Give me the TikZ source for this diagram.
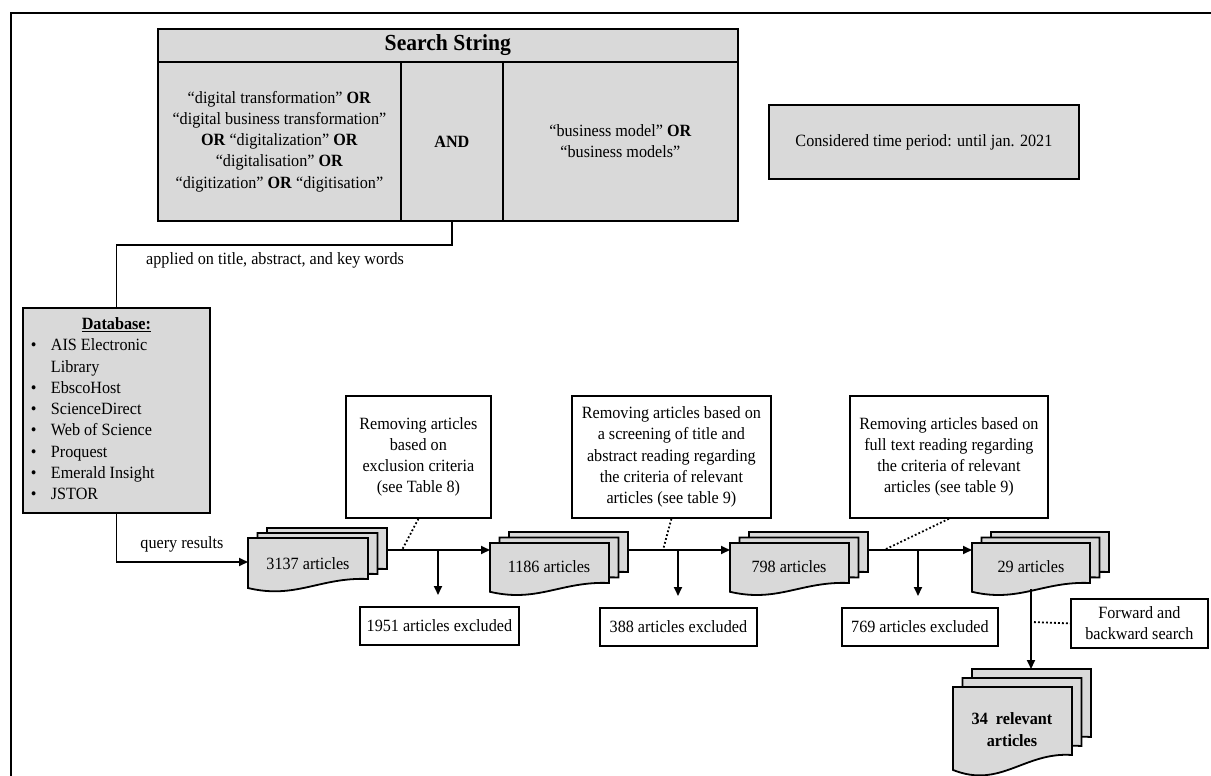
\documentclass[tikz,border=0pt]{standalone}
\usepackage{fontspec}
\setmainfont{Liberation Serif}[FakeStretch=0.94]
\usetikzlibrary{arrows.meta}
\definecolor{panelgray}{RGB}{217,217,217}
\newcommand\bodyfont{\fontsize{17.2}{21.3}\selectfont}

% one paper sheet with a wavy lower edge: x, y, width, height
\newcommand\docsheet[4]{%
  \pgfmathsetmacro\shR{#1+#3}%
  \pgfmathsetmacro\shB{#2+#4}%
  \pgfmathsetmacro\shCa{#1+0.6*#3}\pgfmathsetmacro\shCay{#2+0.95*#4}%
  \pgfmathsetmacro\shCb{#1+0.4*#3}\pgfmathsetmacro\shCby{#2+1.5*#4}%
  \pgfmathsetmacro\shL{#2+1.22*#4}%
  \draw[sheet] (#1,#2) -- (\shR,#2) -- (\shR,\shB)
    .. controls (\shCa,\shCay) and (\shCb,\shCby) .. (#1,\shL) -- cycle;}
% a pile of three sheets: x, y, width, height, x step, y step
\newcommand\docstack[6]{%
  \pgfmathsetmacro\stXc{#1+2*#5}\pgfmathsetmacro\stYc{#2-2*#6}%
  \pgfmathsetmacro\stXb{#1+#5}\pgfmathsetmacro\stYb{#2-#6}%
  \docsheet{\stXc}{\stYc}{#3}{#4}%
  \docsheet{\stXb}{\stYb}{#3}{#4}%
  \docsheet{#1}{#2}{#3}{#4}}

\tikzset{
  box/.style={draw, line width=1.8pt, inner sep=0pt, align=center,
    font=\bodyfont, anchor=north west},
  graybox/.style={box, fill=panelgray},
  sheet/.style={draw, fill=panelgray, line width=1.8pt},
  conn/.style={line width=1.8pt},
  arr/.style={conn, -{Triangle[length=9pt,width=8pt]}},
  dots/.style={line width=1.8pt, dash pattern=on 1.8pt off 2.2pt},
  txt/.style={font=\bodyfont, inner sep=0pt},
}

\begin{document}
\begin{tikzpicture}[x=1pt,y=-1pt]
\useasboundingbox (0,0) rectangle (1211,776);

% outer frame (top and left edges)
\draw[conn] (1211,13) -- (11,13) -- (11,776);

% search string table
\node[graybox, minimum width=580pt, minimum height=33pt,
  font=\bfseries\fontsize{23}{25}\selectfont] (hdr) at (157,28) {Search String};
\node[graybox, minimum width=243pt, minimum height=159pt] (termsA) at (157,61)
  {“digital transformation” \textbf{OR}\\
   “digital business transformation”\\
   \textbf{OR} “digitalization” \textbf{OR}\\
   “digitalisation” \textbf{OR}\\
   “digitization” \textbf{OR} “digitisation”};
\node[graybox, minimum width=102pt, minimum height=159pt,
  font=\bodyfont\bfseries] (andop) at (400,61) {AND};
\node[graybox, minimum width=235pt, minimum height=159pt] (termsB) at (502,61)
  {“business model” \textbf{OR}\\ “business models”};

\node[graybox, minimum width=310pt, minimum height=74pt] (period) at (768,104)
  {Considered time period: until jan. 2021};

% database list
\node[graybox, minimum width=187pt, minimum height=205pt, inner sep=4pt] (db) at (22,307)
  {\begin{tabular}{@{}p{24pt}@{}p{155pt}@{}}
    \multicolumn{2}{@{}c@{}}{\textbf{\underline{Database:}}}\\
    \hspace*{4pt}\textbullet & AIS Electronic\\
     & Library\\
    \hspace*{4pt}\textbullet & EbscoHost\\
    \hspace*{4pt}\textbullet & ScienceDirect\\
    \hspace*{4pt}\textbullet & Web of Science\\
    \hspace*{4pt}\textbullet & Proquest\\
    \hspace*{4pt}\textbullet & Emerald Insight\\
    \hspace*{4pt}\textbullet & JSTOR
  \end{tabular}};

% screening steps
\node[box, minimum width=145pt, minimum height=122pt] (rmA) at (345,395)
  {Removing articles\\based on\\exclusion criteria\\(see Table 8)};
\node[box, minimum width=199pt, minimum height=122pt] (rmB) at (571,395)
  {Removing articles based on\\a screening of title and\\abstract reading regarding\\the criteria of relevant\\articles (see table 9)};
\node[box, minimum width=198pt, minimum height=122pt] (rmC) at (849,395)
  {Removing articles based on\\full text reading regarding\\the criteria of relevant\\articles (see table 9)};

\node[box, minimum width=159pt, minimum height=38pt] (exA) at (359,606) {1951 articles excluded};
\node[box, minimum width=157pt, minimum height=38pt] (exB) at (599,607) {388 articles excluded};
\node[box, minimum width=156pt, minimum height=38pt] (exC) at (841,607) {769 articles excluded};
\node[box, minimum width=137pt, minimum height=49pt] (fwd) at (1070,598) {Forward and\\backward search};

% article piles
\docstack{248}{538}{120}{41}{9.5}{5}
\docstack{490}{543}{119}{40}{9.5}{5.5}
\docstack{730}{543}{119}{40}{9.5}{5.5}
\docstack{972}{543}{118}{40}{9.5}{5.5}
\docstack{953}{687}{119}{68}{9.5}{9}

\node[txt] (nA) at (308,564) {3137 articles};
\node[txt] (nB) at (549,567) {1186 articles};
\node[txt] (nC) at (789,567) {798 articles};
\node[txt] (nD) at (1031,567) {29 articles};
\node[txt, font=\bodyfont\bfseries, align=center] (nE) at (1012,729.5) {34~ relevant\\articles};

% connection points on the piles and the main flow line
\coordinate (qin) at (248,562);
\coordinate (outA) at (387,550);  \coordinate (inB) at (490,550);
\coordinate (forkA) at (438,550); \coordinate (tapA) at (402,550);
\coordinate (outB) at (628,550);  \coordinate (inC) at (730,550);
\coordinate (forkB) at (678,550); \coordinate (tapB) at (663,550);
\coordinate (outC) at (868,550);  \coordinate (inD) at (972,550);
\coordinate (forkC) at (918,550); \coordinate (tapC) at (884,550);
\coordinate (footD) at (1031,589); \coordinate (topE) at (1031,669);
\coordinate (midD) at (1031,622);

% search string to databases
\draw[conn] (andop.south) -- ++(0,23) -| (db.north);
\node[txt, anchor=west] (lblApplied) at (146,260) {applied on title, abstract, and key words};

% databases to first pile
\draw[arr] (db.south) |- (qin);
\node[txt] (lblQuery) at (182,544) {query results};

% main flow
\draw[arr] (outA) -- (inB);
\draw[arr] (outB) -- (inC);
\draw[arr] (outC) -- (inD);
\draw[arr] (footD) -- (topE);

% exclusions
\draw[arr, shorten >=11pt] (forkA) -- (forkA |- exA.north);
\draw[arr, shorten >=11pt] (forkB) -- (forkB |- exB.north);
\draw[arr, shorten >=11pt] (forkC) -- (forkC |- exC.north);

% annotations
\draw[dots] (rmA.south) -- (tapA);
\draw[dots] (rmB.south) -- (tapB);
\draw[dots] (rmC.south) -- (tapC);
\draw[dots, shorten <=3pt] (midD) -- (fwd.west);
\end{tikzpicture}
\end{document}
